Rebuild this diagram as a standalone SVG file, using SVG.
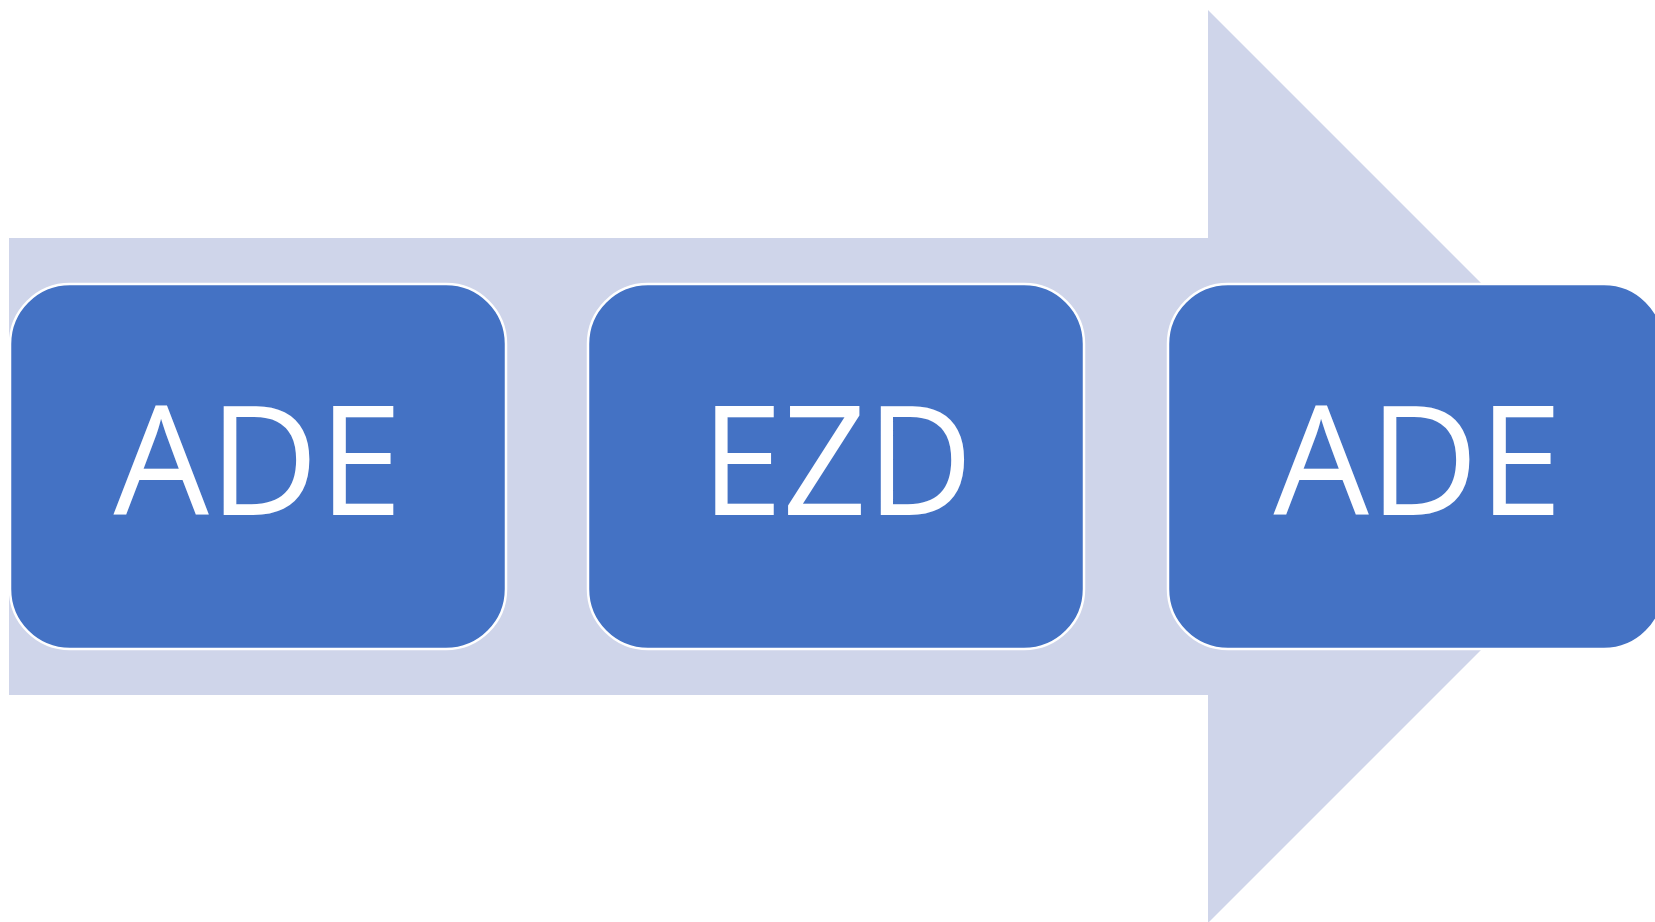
<svg xmlns="http://www.w3.org/2000/svg" width="1655" height="922" viewBox="0 0 1655 922">
<style>
.node rect{fill:#4472C4;stroke:#FFFFFF;stroke-width:2.5}
.node text{fill:#FFFFFF;font-family:"Open Sans","Liberation Sans",sans-serif;font-size:152px;text-anchor:middle}
</style>
<rect width="1655" height="922" fill="#FFFFFF"/>
<g id="arrow">
<polygon points="9,238 1208,238 1208,10 1664.5,466.5 1208,923 1208,695 9,695" fill="#CFD5EA"/>
</g>
<g id="connectors"></g>
<g id="node1" class="node">
<rect x="10" y="284" width="496" height="365" rx="60" ry="60"/>
<text x="258" y="515" textLength="289" lengthAdjust="spacingAndGlyphs">ADE</text>
</g>
<g id="node2" class="node">
<rect x="588" y="284" width="496" height="365" rx="60" ry="60"/>
<text x="837" y="515" textLength="272" lengthAdjust="spacingAndGlyphs">EZD</text>
</g>
<g id="node3" class="node">
<rect x="1168" y="284" width="496" height="365" rx="60" ry="60"/>
<text x="1418" y="515" textLength="289" lengthAdjust="spacingAndGlyphs">ADE</text>
</g>
</svg>
